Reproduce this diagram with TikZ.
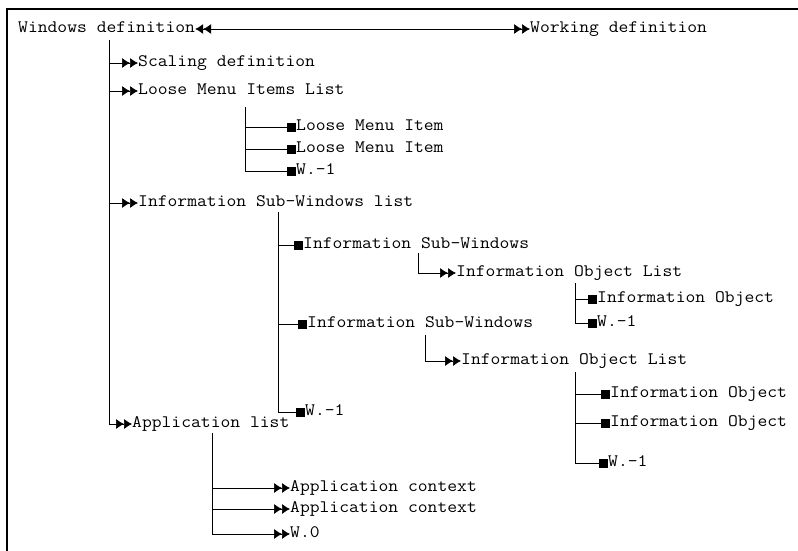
\documentclass[tikz,border=0pt]{standalone}
\usepackage{fontspec}
\setmainfont{Liberation Serif}
\newfontfamily\treefont{Latin Modern Mono}[FakeStretch=1.09]
\usetikzlibrary{arrows.meta}
\tikzset{>=latex}
\tikzstyle{item} = [inner sep=0pt, anchor=west, text height=10.5pt,
    text depth=3pt, font=\treefont\fontsize{17.5}{20}\selectfont]
\tikzstyle{branch} = [draw, line width=0.7pt]
\tikzstyle{dbl} = [branch,
    -{Latex[length=8pt,width=10pt]Latex[length=8pt,width=10pt]}]
\tikzstyle{sq} = [branch, -{Square[length=9pt,width=9pt]}]

\begin{document}
\begin{tikzpicture}[x=1pt, y=-1pt]
    \useasboundingbox (0,0) rectangle (798,551);
    % frame on the top and left edges
    \draw [line width=2pt] (7,551) -- (7,9) -- (798,9);

    % We start with the root and its partner
    \node [item] (root) at (18,29) {Windows definition};
    \node [item] (work) at (530,29) {Working definition};
    \draw [branch, {Latex[length=8pt,width=10pt]Latex[length=8pt,width=10pt]}-{Latex[length=8pt,width=10pt]Latex[length=8pt,width=10pt]}]
        (root.east) -- (work.west);

    % first level
    \node [item] (scale) at (138,63) {Scaling definition};
    \node [item] (looselist) at (138,91) {Loose Menu Items List};
    \node [item] (islist) at (138,203) {Information Sub-Windows list};
    \node [item] (applist) at (132,424) {Application list};
    \coordinate (trunk) at (109,40);
    \draw [dbl] (trunk) |- (applist.west);
    \draw [dbl] (trunk |- scale.west) -- (scale.west);
    \draw [dbl] (trunk |- looselist.west) -- (looselist.west);
    \draw [dbl] (trunk |- islist.west) -- (islist.west);

    % loose menu items
    \node [item] (lmi1) at (296,127) {Loose Menu Item};
    \node [item] (lmi2) at (296,149) {Loose Menu Item};
    \node [item] (lmiend) at (296,171) {W.-1};
    \coordinate (loosetrunk) at (245,107);
    \draw [sq] (loosetrunk) |- (lmiend.west);
    \draw [sq] (loosetrunk |- lmi1.west) -- (lmi1.west);
    \draw [sq] (loosetrunk |- lmi2.west) -- (lmi2.west);

    % information sub-windows
    \node [item] (isw1) at (303,245) {Information Sub-Windows};
    \node [item] (isw2) at (307,324) {Information Sub-Windows};
    \node [item] (isend) at (305,412) {W.-1};
    \coordinate (istrunk) at (278,212);
    \draw [sq] (istrunk) |- (isend.west);
    \draw [sq] (istrunk |- isw1.west) -- (isw1.west);
    \draw [sq] (istrunk |- isw2.west) -- (isw2.west);

    % objects of the first sub-window
    \node [item] (iol1) at (456,273) {Information Object List};
    \coordinate (iol1in) at (418,253);
    \draw [dbl] (iol1in) |- (iol1.west);
    \node [item] (io11) at (597,299) {Information Object};
    \node [item] (io1end) at (597,323) {W.-1};
    \coordinate (io1trunk) at (575,283);
    \draw [sq] (io1trunk) |- (io1end.west);
    \draw [sq] (io1trunk |- io11.west) -- (io11.west);

    % objects of the second sub-window
    \node [item] (iol2) at (461,361) {Information Object List};
    \coordinate (iol2in) at (425,335);
    \draw [dbl] (iol2in) |- (iol2.west);
    \node [item] (io21) at (610,394) {Information Object};
    \node [item] (io22) at (610,423) {Information Object};
    \node [item] (io2end) at (608,463) {W.-1};
    \coordinate (io2trunk) at (575,372);
    \draw [sq] (io2trunk) |- (io2end.west);
    \draw [sq] (io2trunk |- io21.west) -- (io21.west);
    \draw [sq] (io2trunk |- io22.west) -- (io22.west);

    % applications
    \node [item] (appctx1) at (290,488) {Application context};
    \node [item] (appctx2) at (290,509) {Application context};
    \node [item] (append) at (290,534) {W.0};
    \coordinate (apptrunk) at (212,433);
    \draw [dbl] (apptrunk) |- (append.west);
    \draw [dbl] (apptrunk |- appctx1.west) -- (appctx1.west);
    \draw [dbl] (apptrunk |- appctx2.west) -- (appctx2.west);
\end{tikzpicture}
\end{document}
